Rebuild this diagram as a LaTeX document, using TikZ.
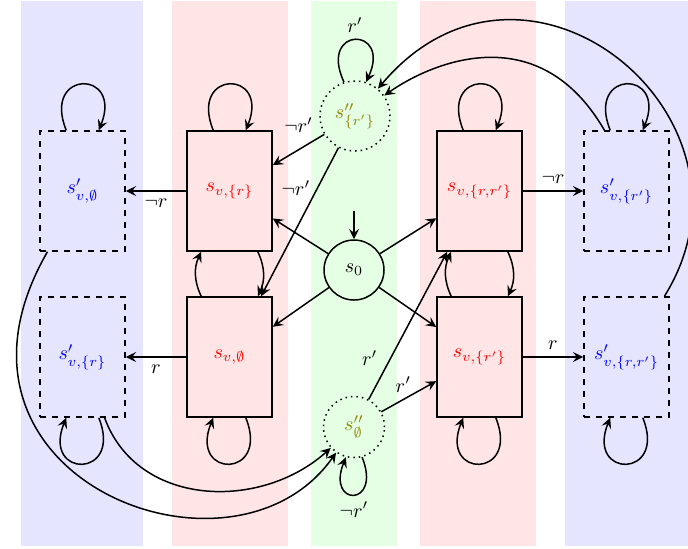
\documentclass[tikz,border=0pt]{standalone}
\usetikzlibrary{arrows.meta}
\begin{document}
\begin{tikzpicture}[x=0.5pt,y=0.5pt, line width=0.75pt,
  >={Stealth[length=5.2pt, width=5pt, inset=2pt]},
  rbox/.style={draw, solid, minimum width=42.5pt, minimum height=60pt, text=red, inner sep=0pt},
  bbox/.style={draw, dashed, minimum width=42.5pt, minimum height=60pt, text=blue, inner sep=0pt},
  scirc/.style={draw, circle, minimum size=30pt, inner sep=0pt},
  dcirc/.style={draw, circle, dotted, text=olive, inner sep=0pt},
  lup/.style={out=112, in=68, distance=33pt},
  ldown/.style={out=292, in=248, distance=33pt}]
\useasboundingbox (0,0) rectangle (688,-548);
% bands
\fill[blue!10] (21,-1) rectangle (143,-546);
\fill[red!10] (172,-1) rectangle (288,-546);
\fill[green!10] (311,-1) rectangle (397,-546);
\fill[red!10] (420,-1) rectangle (536,-546);
\fill[blue!10] (565,-1) rectangle (688,-546);
% nodes
\node[bbox] (bp0) at (82.5,-191) {$s'_{v,\emptyset}$};
\node[rbox] (svr) at (229.5,-191) {$s_{v,\{r\}}$};
\node[rbox] (svrr) at (479.5,-191) {$s_{v,\{r,r'\}}$};
\node[bbox] (bprp) at (626.5,-191) {$s'_{v,\{r'\}}$};
\node[bbox] (bpr) at (82.5,-357) {$s'_{v,\{r\}}$};
\node[rbox] (svo) at (229.5,-357) {$s_{v,\emptyset}$};
\node[rbox] (svrp) at (479.5,-357) {$s_{v,\{r'\}}$};
\node[bbox] (bprr) at (626.5,-357) {$s'_{v,\{r,r'\}}$};
\node[scirc] (s0) at (354,-270) {$s_0$};
\node[dcirc, minimum size=35pt] (srp) at (355,-116) {$s''_{\{r'\}}$};
\node[dcirc, minimum size=30.5pt] (sz) at (354,-427) {$s''_{\emptyset}$};
\coordinate (init) at (354,-211);
% loops
\draw[->] (bp0.105) to[lup] (bp0.75);
\draw[->] (svr.105) to[lup] (svr.75);
\draw[->] (svrr.105) to[lup] (svrr.75);
\draw[->] (bprp.105) to[lup] (bprp.75);
\draw[->] (bpr.285) to[ldown] (bpr.255);
\draw[->] (svo.285) to[ldown] (svo.255);
\draw[->] (svrp.285) to[ldown] (svrp.255);
\draw[->] (bprr.285) to[ldown] (bprr.255);
\draw[->] (srp.108) to[out=115, in=65, distance=31pt] node[above] {$r'$} (srp.72);
\draw[->] (sz.285) to[ldown, distance=27pt] node[below] {$\neg r'$} (sz.255);
% initial
\draw[->] (init) -- (s0);
% from s0
\draw[->] (s0) -- (svr);
\draw[->] (s0) -- (svo);
\draw[->] (s0) -- (svrr);
\draw[->] (s0) -- (svrp);
% vertical pairs
\draw[->] (svo) to[bend left=25] (svr);
\draw[->] (svr) to[bend left=25] (svo);
\draw[->] (svrp) to[bend left=25] (svrr);
\draw[->] (svrr) to[bend left=25] (svrp);
% horizontal
\draw[->] (svr) -- node[below] {$\neg r$} (bp0);
\draw[->] (svo) -- node[below] {$r$} (bpr);
\draw[->] (svrr) -- node[above] {$\neg r$} (bprp);
\draw[->] (svrp) -- node[above] {$r$} (bprr);
% from s''
\draw[->] (srp) -- node[above=5pt] {$\neg r'$} (svr);
\draw[->] (srp) -- node[pos=0.27, left=0pt] {$\neg r'$} (svo);
\draw[->] (sz) -- node[pos=0.28, left=3pt] {$r'$} (svrr);
\draw[->] (sz) -- node[pos=0.4, above] {$r'$} (svrp);
% long curves
\draw[->] (bprp.110) to[out=120, in=35, out distance=65pt, in distance=30pt] (srp.35);
\draw[->] (bprr) to[out=58, in=50, out distance=105pt, in distance=115pt] (srp);
\draw[->] (bp0) to[out=240, in=235, out distance=130pt, in distance=90pt] (sz);
\draw[->] (bpr) to[out=290, in=222, distance=47.5pt] (sz);
\end{tikzpicture}
\end{document}
